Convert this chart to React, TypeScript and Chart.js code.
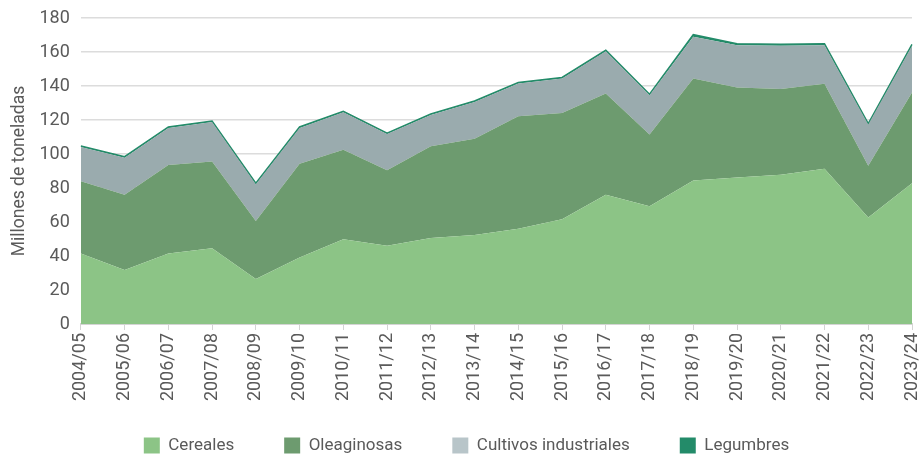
import React, { useEffect, useRef } from 'react';
import { Chart, registerables } from 'chart.js';

Chart.register(...registerables);

const categories = [
  '2004/05', '2005/06', '2006/07', '2007/08', '2008/09', '2009/10', '2010/11',
  '2011/12', '2012/13', '2013/14', '2014/15', '2015/16', '2016/17', '2017/18',
  '2018/19', '2019/20', '2020/21', '2021/22', '2022/23', '2023/24',
];

const cereales = [41.5, 31.7, 41.5, 44.5, 26.4, 39.1, 49.8, 46.0, 50.6, 52.3, 56.0, 61.6, 76.1, 69.3, 84.4, 86.2, 87.8, 91.3, 62.6, 82.8];
const oleaginosas = [42.5, 44.3, 52.0, 51.1, 34.2, 55.2, 52.7, 44.5, 53.9, 56.7, 66.2, 62.5, 59.5, 42.1, 60.0, 52.9, 50.5, 50.0, 30.5, 53.4];
const industriales = [20.1, 21.8, 21.8, 23.2, 21.6, 21.0, 22.0, 21.2, 18.5, 21.6, 19.3, 20.3, 24.8, 23.2, 24.6, 24.9, 25.4, 22.7, 24.2, 27.5];
const legumbres = [0.6, 0.6, 0.6, 0.6, 0.6, 0.6, 0.6, 0.6, 0.6, 0.6, 0.6, 0.6, 0.6, 0.6, 1.2, 0.9, 0.8, 0.9, 0.6, 0.8];

const yTicks = [0, 20, 40, 60, 80, 100, 120, 140, 160, 180];

const seriesNames = ['Cereales', 'Oleaginosas', 'Cultivos industriales', 'Legumbres'];
const fillColors = ['#8cc486', '#6d9b6f', '#9aabae', '#238b69'];
const legendColors = ['#8cc486', '#6d9b6f', '#b8c5c9', '#238b69'];

const FONT = 'Roboto, "Liberation Sans", Arial, sans-serif';
const TEXT = '#5a5a5a';

export default function App() {
  const ref = useRef<HTMLCanvasElement>(null);

  useEffect(() => {
    const values = [cereales, oleaginosas, industriales, legumbres];
    const chart = new Chart(ref.current!, {
      type: 'line',
      data: {
        labels: categories,
        datasets: values.map((v, i) => ({
          label: seriesNames[i],
          data: v,
          backgroundColor: fillColors[i],
          borderColor: fillColors[i],
          borderWidth: i === 3 ? 1.5 : 0,
          pointRadius: 0,
          fill: i === 0 ? 'origin' : '-1',
          tension: 0,
        })),
      },
      options: {
        animation: false,
        responsive: true,
        maintainAspectRatio: false,
        layout: { padding: { top: 18, right: 0, left: 11, bottom: -2 } },
        plugins: {
          tooltip: { enabled: false },
          legend: {
            position: 'bottom',
            labels: {
              boxWidth: 16,
              boxHeight: 16,
              padding: 50,
              color: TEXT,
              font: { family: FONT, size: 17 },
              generateLabels: (c: any) => {
                const items = Chart.defaults.plugins.legend.labels.generateLabels(c);
                return items.map((it: any, i: number) => ({
                  ...it,
                  fillStyle: legendColors[i],
                  strokeStyle: legendColors[i],
                  lineWidth: 0,
                }));
              },
            },
          },
        },
        scales: {
          x: {
            afterFit: (scale: any) => {
              scale.height = 63;
              scale.paddingRight = 10;
              scale.paddingLeft = 0;
              scale._computeLabelArea = () => undefined;
            },
            grid: {
              display: true,
              drawOnChartArea: false,
              drawTicks: true,
              tickLength: 6,
              color: '#d4d4d4',
            },
            border: { display: true, color: '#d4d4d4', width: 2 },
            ticks: {
              minRotation: 90,
              maxRotation: 90,
              autoSkip: false,
              color: TEXT,
              padding: 3,
              font: { family: FONT, size: 18 },
            },
          },
          y: {
            stacked: true,
            min: 0,
            max: 180,
            afterBuildTicks: (axis: any) => {
              axis.ticks = yTicks.map((v) => ({ value: v }));
            },
            afterFit: (scale: any) => {
              scale.paddingTop = 0;
              scale.paddingBottom = 0;
            },
            grid: { color: '#dcdcdc', lineWidth: 1.5, drawTicks: false },
            border: { display: false },
            ticks: {
              color: TEXT,
              padding: 11,
              font: { family: FONT, size: 18 },
            },
            title: {
              display: true,
              text: 'Millones de toneladas',
              color: TEXT,
              padding: { top: 0, bottom: 0 },
              font: { family: FONT, size: 17.5, lineHeight: 1 },
            },
          },
        },
      },
    });
    return () => chart.destroy();
  }, []);

  return (
    <div style={{ position: 'absolute', left: 0, top: 0, width: 922, height: 462, background: '#fff' }}>
      <canvas ref={ref} />
    </div>
  );
}
